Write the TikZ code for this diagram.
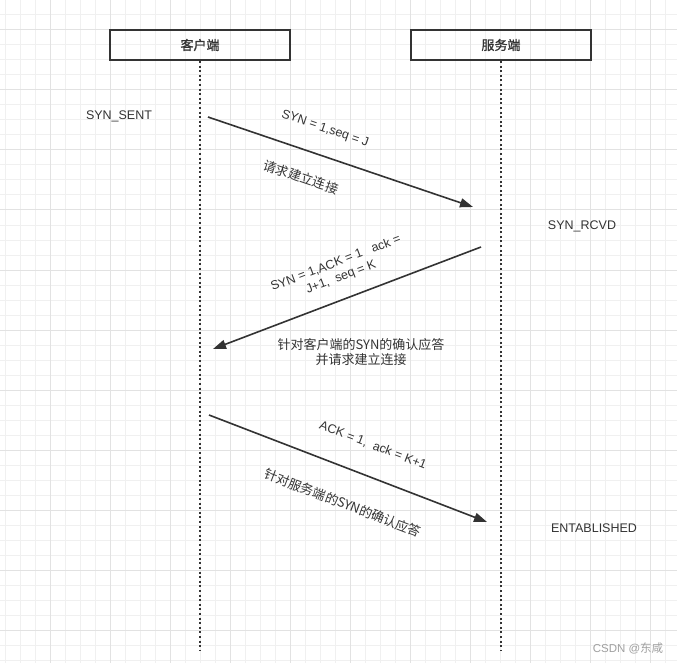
\documentclass[tikz,border=0pt]{standalone}
\usepackage{fontspec}
\setmainfont{Liberation Sans}
\newfontfamily\cjk{Noto Sans CJK SC}
\newfontfamily\cjkhead[FakeBold=1.2]{Noto Sans CJK SC}
\usetikzlibrary{arrows.meta}

\definecolor{gridminor}{HTML}{F0F0F0}
\definecolor{gridmajor}{HTML}{E2E2E2}
\definecolor{ink}{HTML}{333333}
\definecolor{mark}{HTML}{A0A0A0}

\begin{document}
\begin{tikzpicture}[x = 1pt, y = -1pt,
        lane/.style = {draw = ink, line width = 2pt, minimum width = 180pt, minimum height = 30pt, inner sep = 0pt, text = ink, font = \cjkhead\fontsize{13}{13}\selectfont},
        life/.style = {draw = ink, line width = 2pt, dash pattern = on 2pt off 2.6pt},
        msg/.style = {draw = ink, line width = 1.6pt, -{Triangle[length = 13pt, width = 9pt]}},
        state/.style = {text = ink, inner sep = 0pt, font = \fontsize{12.5}{15}\selectfont},
        tag/.style = {text = ink, inner sep = 0pt, align = center, rotate = #1, font = \fontsize{12.5}{15}\selectfont},
        note/.style = {text = ink, inner sep = 0pt, align = center, rotate = #1, font = \cjk\fontsize{13}{15.5}\selectfont}]
    \fill[white] (0, 0) rectangle (677, 663);
    \useasboundingbox (0, 0) rectangle (677, 663);
    % grid paper
    \foreach \x in {5, 20, ..., 680}
        \draw[gridminor, line width = 1pt] (\x, 0) -- (\x, 663);
    \foreach \y in {0, 15, ..., 663}
        \draw[gridminor, line width = 1pt] (0, \y) -- (677, \y);
    \foreach \x in {50, 110, ..., 650}
        \draw[gridmajor, line width = 1pt] (\x, 0) -- (\x, 663);
    \foreach \y in {30, 90, ..., 630}
        \draw[gridmajor, line width = 1pt] (0, \y) -- (677, \y);

    % lanes
    \node[lane] (client) at (200, 45) {客户端};
    \node[lane] (server) at (501, 45) {服务端};
    \coordinate (client end) at (200, 651);
    \coordinate (server end) at (501, 651);
    \draw[life] (client.south) -- (client end);
    \draw[life] (server.south) -- (server end);

    % states
    \node[state] (sent) at (119, 116) {SYN\_SENT};
    \node[state] (rcvd) at (582, 226) {SYN\_RCVD};
    \node[state] (est)  at (594, 528) {ENTABLISHED};

    % handshake
    \coordinate (syn from) at (208, 117);
    \coordinate (syn to)   at (473, 207);
    \coordinate (ack from) at (481, 247);
    \coordinate (ack to)   at (213, 349);
    \coordinate (fin from) at (209, 415);
    \coordinate (fin to)   at (487, 522);
    \draw[msg] (syn from) -- (syn to);
    \draw[msg] (ack from) -- (ack to);
    \draw[msg] (fin from) -- (fin to);

    \node[tag = -18.8]  (syn tag)  at (325, 129) {SYN = 1,seq = J};
    \node[note = -18.8] (syn note) at (301, 177) {请求建立连接};
    \node[tag = 20.8]   (ack tag)  at (338.5, 270.5) {SYN = 1,ACK = 1\ \ \ ack =\\J+1,\ \ seq = K};
    \node[note = 0]     (ack note) at (361, 352) {针对客户端的SYN的确认应答\\并请求建立连接};
    \node[tag = -21]    (fin tag)  at (373, 445.5) {ACK = 1,\ \ ack = K+1};
    \node[note = -21]   (fin note) at (343, 503) {针对服务端的SYN的确认应答};

    \node[text = mark, inner sep = 0pt, font = \fontsize{11.5}{11.5}\selectfont] (water) at (628, 648) {CSDN @{\cjk 东咸}};
\end{tikzpicture}
\end{document}
